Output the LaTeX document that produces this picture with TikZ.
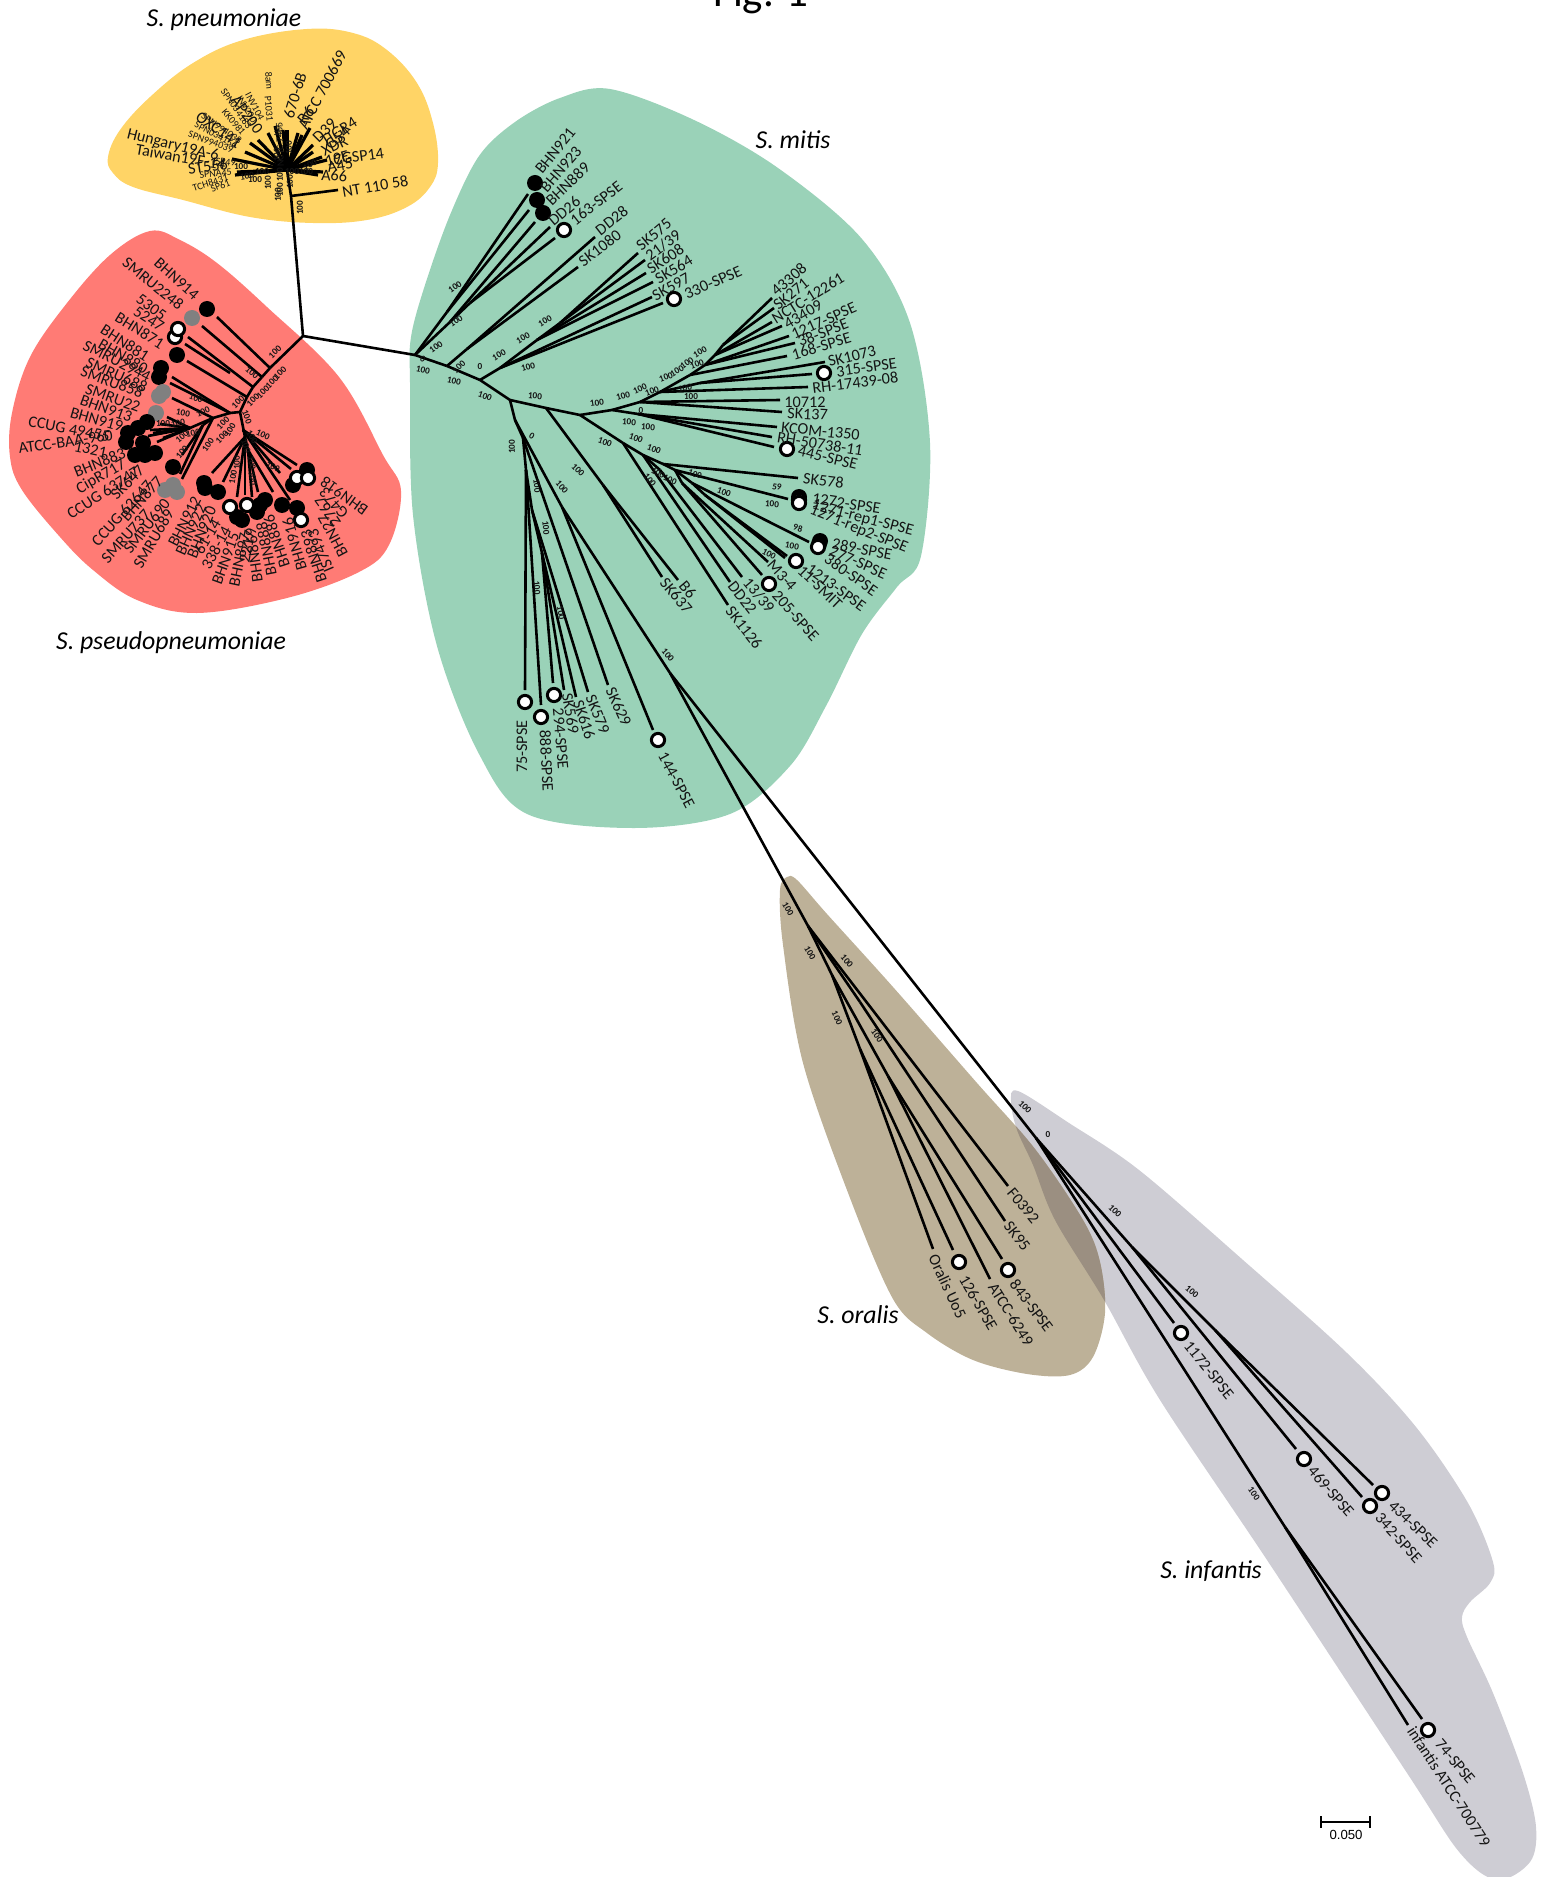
\documentclass[tikz,border=0pt]{standalone}
\usepackage{fontspec}
\setmainfont{Carlito}
\newcounter{nn}
\definecolor{cyel}{HTML}{FFD466}
\definecolor{cpnk}{HTML}{FF7B75}
\definecolor{cgrn}{HTML}{9AD2B8}
\definecolor{cbrn}{HTML}{BDB198}
\definecolor{cgry}{HTML}{CECDD4}
\definecolor{covl}{HTML}{9B8F81}
\definecolor{ctxt}{HTML}{141414}
\tikzset{
 branch/.style={line width=1.3pt,line cap=butt},
 lab/.style={inner sep=0pt,text=ctxt,font=\fontsize{8.1}{9}\selectfont},
 slab/.style={inner sep=0pt,text=ctxt,font=\fontsize{5}{6}\selectfont},
 bs/.style={inner sep=0pt,text=ctxt,font=\fontsize{4.6}{5}\selectfont\bfseries},
 sp/.style={inner sep=0pt,text=black,font=\fontsize{12.9}{14}\selectfont\itshape},
 wmark/.style={circle,inner sep=0pt,minimum size=6.6pt,draw=black,line width=1.5pt,fill=white},
 bmark/.style={circle,inner sep=0pt,minimum size=8pt,fill=black},
 gmark/.style={circle,inner sep=0pt,minimum size=8pt,fill=gray},
}
\newcommand\nd[3]{\coordinate (#1) at (#3); \draw[branch] (#2) -- (#1);}
\newcommand\Lw[4]{\stepcounter{nn}\node[lab,anchor=west,rotate=#3] (t\thenn) at (#1,#2) {#4};}
\newcommand\Le[4]{\stepcounter{nn}\node[lab,anchor=east,rotate=#3] (t\thenn) at (#1,#2) {#4};}
\newcommand\Se[4]{\stepcounter{nn}\node[slab,anchor=east,rotate=#3] (t\thenn) at (#1,#2) {#4};}
\newcommand\Mk[3]{\stepcounter{nn}\node[#1] (m\thenn) at (#2,#3) {};}
\newcommand\gryblob{plot[smooth cycle,tension=0.55] coordinates {(1018,1091)(1011,1102)(1017,1130)(1033,1165)(1055,1220)(1104,1300)(1160,1400)(1267,1560)(1407,1773)(1460,1853)(1497,1880)(1530,1862)(1536,1827)(1523,1773)(1493,1693)(1467,1637)(1462,1617)(1470,1602)(1490,1583)(1493,1562)(1468,1503)(1416,1427)(1347,1353)(1243,1260)(1139,1170)(1069,1123)}}
\newcommand\brnblob{plot[smooth cycle,tension=0.55] coordinates {(787,877)(780,890)(783,945)(803,1063)(850,1198)(893,1299)(927,1333)(973,1360)(1027,1374)(1070,1375)(1093,1357)(1105,1313)(1100,1262)(1083,1220)(1035,1149)(977,1083)(893,987)(827,914)(797,880)}}
\begin{document}
\begin{tikzpicture}[x=0.5pt,y=-0.5pt]
\clip (0,0) rectangle (1545,1877);
\useasboundingbox (0,0) rectangle (1545,1877);
% clouds
\fill[cyel] plot[smooth cycle,tension=0.65] coordinates {(307,29)(353,33)(387,50)(417,83)(433,123)(438,163)(430,187)(407,207)(367,220)(313,223)(250,217)(183,200)(133,187)(113,173)(108,157)(120,130)(150,97)(193,63)(243,40)};
\fill[cpnk] plot[smooth cycle,tension=0.6] coordinates {(150,231)(180,240)(217,263)(267,307)(339,377)(383,455)(401,491)(389,545)(359,572)(287,598)(197,613)(137,600)(93,570)(60,537)(22,490)(10,457)(12,413)(30,357)(67,303)(110,255)};
\fill[cgrn] plot[smooth cycle,tension=0.55] coordinates {(610,89)(560,98)(515,122)(479,156)(450,215)(425,285)(411,337)(410,383)(413,515)(437,646)(479,754)(527,814)(634,828)(730,814)(790,766)(826,706)(862,634)(897,587)(921,556)(930,443)(910,323)(862,239)(778,168)(694,120)};
\fill[cgry] \gryblob;
\fill[cbrn] \brnblob;
\begin{scope}\clip \gryblob; \fill[covl] \brnblob; \end{scope}
% ---- title & species
\node[inner sep=0pt,anchor=base,font=\fontsize{21.5}{24}\selectfont] (title) at (761,7) {Fig. 1};
\node[sp] (s1) at (224,20) {S. pneumoniae};
\node[sp] (s2) at (171,643) {S. pseudopneumoniae};
\node[sp] (s3) at (793,140) {S. mitis};
\node[sp] (s4) at (858,1315) {S. oralis};
\node[sp] (s5) at (1211,1571) {S. infantis};
% ---- tree backbone
\coordinate (R) at (303,336);
\nd{T}{R}{291,196} \nd{pc}{T}{287,170}
\nd{NT}{T}{338,190}
% pneumoniae spokes
\foreach \n/\x/\y in {1/235/175,2/237/172,3/232/159,4/245/152,5/250/143,6/258/140,7/268/133,8/275/126,9/283/130,10/287/130,11/298/133,12/302/135,13/310/128,14/313/145,15/313/152,16/322/157,17/327/160,18/323/172,19/318/175}
 {\coordinate (ps\n) at (\x,\y); \draw[branch,line width=1.6pt] (pc) -- (ps\n);}
% pseudopneumoniae tree
\nd{a1}{R}{270,368} \nd{a2}{a1}{262,377} \nd{a3}{a2}{253,387} \nd{a4}{a3}{247,397} \nd{a0}{a4}{240,412}
\coordinate (e1) at (217,317); \draw[branch] (a1)--(e1);
\coordinate (e2) at (202,326); \draw[branch] (a2)--(e2);
\coordinate (e3) at (188,337); \draw[branch] (a3)--(e3);
\coordinate (a5) at (230,373); \coordinate (e4) at (185,344); \draw[branch] (a5)--(e4);
\coordinate (e5) at (187,361); \draw[branch] (a4)--(e5);
\nd{b1}{a0}{230,413}
\coordinate (e6) at (172,377); \draw[branch] (b1)--(e6);
\coordinate (e7) at (170,383); \draw[branch] (b1)--(e7);
\nd{b2}{b1}{213,418}
\coordinate (e8) at (172,398); \draw[branch] (b2)--(e8);
\nd{b3}{b2}{190,428}
\foreach \n/\x/\y in {1/167/417,2/150/430,3/153/433,4/163/438,5/157/442,6/160/424,7/148/436}
 {\coordinate (c\n) at (\x,\y); \draw[branch] (b3) -- (c\n);}
\nd{b4}{b2}{203,425}
\coordinate (e9) at (182,455); \draw[branch] (b4)--(e9);
\coordinate (e10) at (182,479); \draw[branch] (b2)--(e10);
\coordinate (e11) at (180,474); \draw[branch] (b4)--(e11);
\nd{c0}{a0}{245,437} \nd{c00}{c0}{248,450}
\foreach \n/\x/\y in {1/212/473,2/223/482,3/237/497,4/245/495}
 {\coordinate (d\n) at (\x,\y); \draw[branch] (c0) -- (d\n);}
\foreach \n/\x/\y in {5/252/497,6/258/492,7/273/492}
 {\coordinate (d\n) at (\x,\y); \draw[branch] (c00) -- (d\n);}
\coordinate (cr) at (243,430);
\foreach \n/\x/\y in {8/290/500,9/280/473,10/297/465,11/291/469}
 {\coordinate (d\n) at (\x,\y); \draw[branch] (cr) -- (d\n);}
% mitis backbone
\nd{m0}{R}{415,355} \nd{m1}{m0}{447,366} \nd{m2}{m1}{480,380} \nd{m3}{m2}{510,400}
\nd{Y}{m3}{546,408} \nd{j1}{Y}{580,415} \nd{j2}{j1}{612,410} \nd{j4}{j2}{640,402} \nd{j5}{j4}{660,392} \nd{j6}{j5}{690,375}
% group A
\nd{A1}{m0}{447,312} \nd{A2}{m0}{450,322} \nd{A3}{A2}{470,303}
\coordinate (f1) at (528,194); \draw[branch] (A1)--(f1);
\coordinate (f2) at (529,210); \draw[branch] (A1)--(f2);
\coordinate (f3) at (535,222); \draw[branch] (A2)--(f3);
\coordinate (f4) at (550,227); \draw[branch] (A3)--(f4);
\coordinate (f5) at (555,238); \draw[branch] (A3)--(f5);
% group B
\nd{B1}{m1}{467,349}
\coordinate (f6) at (595,237); \draw[branch] (B1)--(f6);
\coordinate (f7) at (578,267); \draw[branch] (B1)--(f7);
% group C
\nd{c1}{m2}{500,368} \nd{c2}{c1}{537,340} \nd{c3}{c2}{560,323}
\coordinate (f8) at (638,253); \draw[branch] (c3)--(f8);
\coordinate (f9) at (645,260); \draw[branch] (c3)--(f9);
\coordinate (f10) at (646,273); \draw[branch] (c2)--(f10);
\coordinate (f11) at (653,282); \draw[branch] (c2)--(f11);
\coordinate (f12) at (652,297); \draw[branch] (c1)--(f12);
\coordinate (f13) at (663,303); \draw[branch] (c1)--(f13);
% right fan
\nd{j7}{j6}{705,365} \nd{j8}{j7}{715,355} \nd{j9}{j8}{723,345}
\coordinate (g1) at (772,298); \draw[branch] (j9)--(g1);
\coordinate (g2) at (774,308); \draw[branch] (j9)--(g2);
\coordinate (g3) at (772,322); \draw[branch] (j8)--(g3);
\coordinate (g4) at (782,326); \draw[branch] (j8)--(g4);
\coordinate (g5) at (789,336); \draw[branch] (j7)--(g5);
\coordinate (g6) at (795,343); \draw[branch] (j7)--(g6);
\coordinate (g7) at (787,356); \draw[branch] (j6)--(g7);
\nd{j10}{j5}{700,383}
\coordinate (g8) at (825,362); \draw[branch] (j10)--(g8);
\coordinate (g9) at (812,374); \draw[branch] (j10)--(g9);
\coordinate (g10) at (808,387); \draw[branch] (j5)--(g10);
\coordinate (g11) at (780,400); \draw[branch] (j4)--(g11);
\coordinate (g12) at (782,412); \draw[branch] (j4)--(g12);
\nd{j3}{j2}{638,414}
\coordinate (g13) at (777,427); \draw[branch] (j3)--(g13);
\coordinate (g14) at (772,437); \draw[branch] (j3)--(g14);
\coordinate (g15) at (774,447); \draw[branch] (j3)--(g15);
% lower arm
\nd{k1}{j1}{623,443} \nd{k2}{k1}{643,455} \nd{k3}{k2}{663,464} \nd{k4}{k3}{675,470} \nd{k5}{k4}{692,483} \nd{k6}{k5}{705,495}
\coordinate (h1) at (798,478); \draw[branch] (k3)--(h1);
\coordinate (h2) at (788,499); \draw[branch] (k4)--(h2);
\coordinate (h3) at (809,542); \draw[branch] (k5)--(h3);
\coordinate (h4) at (787,556); \draw[branch] (k6)--(h4);
\coordinate (h5) at (785,558); \draw[branch] (k6)--(h5);
\nd{k7}{k4}{682,483}
\coordinate (h6) at (768,562); \draw[branch] (k7)--(h6);
\coordinate (h7) at (762,575); \draw[branch] (k7)--(h7);
\nd{k8}{k2}{660,470}
\coordinate (h8) at (742,577); \draw[branch] (k8)--(h8);
\coordinate (h9) at (730,582); \draw[branch] (k2)--(h9);
\coordinate (h10) at (728,605); \draw[branch] (k1)--(h10);
\nd{s1}{Y}{603,485}
\coordinate (h11) at (678,580); \draw[branch] (s1)--(h11);
\coordinate (h12) at (662,577); \draw[branch] (s1)--(h12);
% lower-left fan
\nd{d0}{m3}{515,420} \nd{dd1}{d0}{523,438} \nd{dd2}{dd1}{526,470} \nd{dd3}{dd2}{532,510} \nd{dd4}{dd3}{542,553} \nd{dd5}{d0}{562,507}
\coordinate (i1) at (525,690); \draw[branch] (dd2)--(i1);
\coordinate (i2) at (541,705); \draw[branch] (dd2)--(i2);
\coordinate (i3) at (553,683); \draw[branch] (dd4)--(i3);
\coordinate (i4) at (564,690); \draw[branch] (dd4)--(i4);
\coordinate (i5) at (576,697); \draw[branch] (dd4)--(i5);
\coordinate (i6) at (588,692); \draw[branch] (dd3)--(i6);
\coordinate (i7) at (608,685); \draw[branch] (dd1)--(i7);
\coordinate (i8) at (653,730); \draw[branch] (dd5)--(i8);
\nd{ob}{dd5}{670,673}
% oralis
\nd{O1}{ob}{808,926} \nd{O4}{O1}{860,1002} \nd{O2}{O1}{832,975} \nd{O3}{O2}{888,1076} \nd{O5}{O2}{860,1049}
\coordinate (o1) at (1008,1186); \draw[branch] (O1)--(o1);
\coordinate (o2) at (1005,1221); \draw[branch] (O4)--(o2);
\coordinate (o3) at (1002,1259); \draw[branch] (O3)--(o3);
\coordinate (o4) at (990,1279); \draw[branch] (O3)--(o4);
\coordinate (o5) at (953,1250); \draw[branch] (O5)--(o5);
\coordinate (o6) at (933,1249); \draw[branch] (O5)--(o6);
% infantis
\nd{I}{ob}{1036,1138} \nd{I2}{I}{1132,1247} \nd{I3}{I2}{1215,1330} \nd{I4}{I}{1285,1527}
\coordinate (n1) at (1174,1323); \draw[branch] (I)--(n1);
\coordinate (n2) at (1296,1449); \draw[branch] (I2)--(n2);
\coordinate (n3) at (1362,1497); \draw[branch] (I3)--(n3);
\coordinate (n4) at (1373,1485); \draw[branch] (I3)--(n4);
\coordinate (n5) at (1422,1719); \draw[branch] (I4)--(n5);
\coordinate (n6) at (1408,1725); \draw[branch] (I4)--(n6);
% scale bar
\coordinate (sb1) at (1321,1822); \coordinate (sb2) at (1370,1822);
\draw[line width=1.2pt] (sb1) -- (sb2);
\draw[line width=1.2pt] ([yshift=3pt]sb1) -- ([yshift=-3pt]sb1);
\draw[line width=1.2pt] ([yshift=3pt]sb2) -- ([yshift=-3pt]sb2);
\node[inner sep=0pt,font=\fontsize{6.6}{8}\fontspec{Liberation Sans}\selectfont] (sbl) at (1346,1835) {0.050};
% ---- markers
% pseudopneumoniae
\Mk{bmark}{207}{309} \Mk{gmark}{192}{318} \Mk{wmark}{175}{337} \Mk{wmark}{178}{329} \Mk{bmark}{177}{355}
\Mk{bmark}{161}{368} \Mk{bmark}{159}{377} \Mk{gmark}{163}{392} \Mk{gmark}{159}{396} \Mk{gmark}{156}{413}
\Mk{bmark}{147}{422} \Mk{bmark}{138}{428} \Mk{bmark}{128}{433} \Mk{bmark}{126}{442} \Mk{bmark}{143}{443} \Mk{bmark}{135}{455} \Mk{bmark}{145}{455} \Mk{bmark}{155}{453}
\Mk{bmark}{173}{467} \Mk{gmark}{173}{485} \Mk{gmark}{165}{490} \Mk{gmark}{177}{492}
\Mk{bmark}{204}{483} \Mk{bmark}{205}{488} \Mk{bmark}{218}{492}
\Mk{bmark}{237}{517} \Mk{bmark}{242}{520} \Mk{wmark}{230}{507} \Mk{bmark}{257}{512} \Mk{bmark}{265}{500} \Mk{bmark}{260}{505} \Mk{wmark}{247}{505}
\Mk{bmark}{282}{505} \Mk{bmark}{297}{508} \Mk{wmark}{301}{520} \Mk{bmark}{293}{485} \Mk{bmark}{307}{470} \Mk{wmark}{297}{478} \Mk{wmark}{308}{478}
% mitis
\Mk{bmark}{535}{183} \Mk{bmark}{537}{200} \Mk{bmark}{543}{213} \Mk{wmark}{564}{230} \Mk{wmark}{674}{299}
\Mk{wmark}{824}{373} \Mk{wmark}{787}{449}
\Mk{bmark}{799}{497} \Mk{wmark}{799}{500} \Mk{wmark}{799}{503}
\Mk{bmark}{820}{541} \Mk{bmark}{819}{544} \Mk{wmark}{818}{547}
\Mk{wmark}{796}{561} \Mk{wmark}{769}{584}
\Mk{wmark}{525}{702} \Mk{wmark}{541}{717} \Mk{wmark}{554}{695} \Mk{wmark}{658}{740}
% oralis, infantis
\Mk{wmark}{1008}{1270} \Mk{wmark}{959}{1262}
\Mk{wmark}{1181}{1333} \Mk{wmark}{1304}{1459} \Mk{wmark}{1370}{1506} \Mk{wmark}{1382}{1493} \Mk{wmark}{1428}{1730}
% ---- labels: pneumoniae
\Lw{342}{192}{10}{NT 110 58}
\Lw{302}{128}{62}{ATCC 700669}
\Lw{288}{118}{73}{670-6B}
\Lw{322}{142}{32}{TIGR4}
\Lw{333}{160}{8}{CGSP14}
\Le{219}{157}{-14}{Hungary19A-6}
\Le{226}{165}{-10}{Taiwan19F-14}
\Le{228}{164}{8}{ST556}
\Le{240}{145}{-35}{OXC141}
\Le{260}{132}{-53}{AP200}
\Lw{300}{122}{50}{R6}
\Lw{315}{140}{45}{D39}
\Se{262}{120}{-62}{INV104}
\Se{255}{122}{-58}{INV200}
\Se{250}{128}{-55}{SPN034183}
\Se{244}{134}{-50}{KK0981}
\Se{241}{142}{-35}{SPN994038}
\Se{237}{146}{-28}{SPN034156}
\Se{233}{150}{-20}{SPN994039}
\Se{236}{163}{-5}{SP49}
\Se{232}{172}{5}{SPNA45}
\Se{228}{177}{18}{TCH8431}
\Se{230}{182}{22}{SP61}
\Se{270}{122}{-85}{P1031}
\Se{270}{90}{-85}{8am}
\Se{279}{122}{92}{NCTC 7465}
\Se{278}{125}{88}{JJA}
\Lw{327}{147}{40}{G54}
\Lw{322}{152}{25}{XDR}
\Lw{325}{162}{15}{19F}
\Lw{327}{168}{10}{A45}
\Lw{321}{175}{-3}{A66}
% ---- labels: pseudopneumoniae
\Le{197}{297}{-42}{BHN914} \Le{182}{307}{-39}{SMRU2248} \Le{165}{317}{-36}{5305} \Le{163}{328}{-33}{5247} \Le{163}{345}{-32}{BHN871}
\Le{148}{358}{-33}{BHN881} \Le{147}{370}{-30}{BHN880} \Le{150}{378}{-27}{SMRU2944} \Le{147}{388}{-24}{SMRU688} \Le{143}{393}{-20}{SMRU858} \Le{140}{408}{-20}{SMRU22}
\Le{132}{418}{-20}{BHN913} \Le{123}{427}{-16}{BHN919} \Le{110}{437}{-11}{CCUG 49455} \Le{113}{435}{8}{ATCC-BAA-960} \Le{107}{453}{-12}{1321} \Le{125}{452}{22}{BHN883}
\Le{125}{463}{30}{CipR717} \Le{138}{470}{33}{CCUG 63747} \Le{142}{468}{45}{SK647} \Le{150}{482}{48}{CCUG 62647} \Le{160}{478}{48}{BHN877}
\Le{148}{512}{48}{SMRU737} \Le{167}{500}{52}{SMRU690} \Le{170}{510}{60}{SMRU689}
\Le{197}{497}{63}{BHN912} \Le{202}{505}{66}{BHN922} \Le{212}{507}{68}{BHN920} \Le{217}{520}{60}{61-14} \Le{227}{527}{62}{338-14}
\Le{235}{533}{70}{BHN915} \Le{245}{533}{78}{BHN897} \Le{250}{530}{80}{2217}
\Le{250}{528}{98}{BHN869} \Le{261}{522}{101}{BHN888} \Le{268}{515}{108}{BHN886} \Le{287}{518}{106}{BHN916} \Le{305}{530}{108}{BHN893} \Le{312}{530}{113}{IS7493}
\Le{322}{515}{118}{BHN27} \Le{318}{498}{125}{2767} \Le{322}{490}{132}{G473} \Le{322}{480}{144}{BHN918}
% ---- labels: mitis
\Lw{538}{172}{51}{BHN921} \Lw{543}{190}{49}{BHN923} \Lw{548}{203}{44}{BHN889} \Lw{550}{223}{40}{DD26} \Lw{572}{222}{38}{163-SPSE}
\Lw{597}{232}{38}{DD28} \Lw{580}{263}{37}{SK1080}
\Lw{638}{248}{40}{SK575} \Lw{647}{257}{36}{21/39} \Lw{648}{270}{33}{SK608} \Lw{656}{280}{31}{SK564} \Lw{653}{297}{29}{SK597} \Lw{685}{295}{24}{330-SPSE}
\Lw{773}{293}{41}{43308} \Lw{775}{307}{39}{SK271} \Lw{773}{320}{32}{NCTC-12261} \Lw{785}{325}{30}{43409} \Lw{792}{335}{24}{1217-SPSE} \Lw{798}{342}{21}{38-SPSE} \Lw{792}{355}{17}{168-SPSE}
\Lw{828}{362}{14}{SK1073} \Lw{836}{372}{8}{315-SPSE} \Lw{812}{388}{7}{RH-17439-08} \Lw{784}{402}{0}{10712} \Lw{787}{413}{-3}{SK137}
\Lw{781}{427}{-6}{KCOM-1350} \Lw{777}{437}{-9}{RH-50738-11} \Lw{798}{450}{-14}{445-SPSE}
\Lw{803}{478}{-7}{SK578} \Lw{812}{498}{-9}{1272-SPSE} \Lw{812}{505}{-15}{1271-rep1-SPSE} \Lw{810}{510}{-22}{1271-rep2-SPSE}
\Lw{832}{543}{-11}{289-SPSE} \Lw{830}{550}{-24}{277-SPSE} \Lw{826}{557}{-35}{380-SPSE} \Lw{808}{567}{-36}{1213-SPSE} \Lw{800}{568}{-44}{11-SMIT}
\Lw{770}{562}{-48}{M3-4} \Lw{775}{593}{-48}{205-SPSE} \Lw{746}{580}{-50}{13/39} \Lw{731}{583}{-52}{DD22} \Lw{729}{608}{-52}{SK1126}
\Lw{682}{583}{-50}{B6} \Lw{663}{580}{-50}{SK637}
\Le{522}{720}{90}{75-SPSE} \Lw{545}{730}{-87}{888-SPSE} \Lw{558}{708}{-85}{294-SPSE} \Lw{567}{693}{-80}{SK569} \Lw{578}{700}{-72}{SK616} \Lw{590}{695}{-68}{SK579} \Lw{610}{688}{-65}{SK629} \Lw{662}{753}{-62}{144-SPSE}
% oralis
\Lw{1010}{1190}{-50}{F0392} \Lw{1007}{1223}{-52}{SK95} \Lw{1013}{1281}{-53}{843-SPSE} \Lw{992}{1284}{-58}{ATCC-6249} \Lw{963}{1276}{-60}{126-SPSE} \Lw{933}{1255}{-65}{Oralis Uo5}
% infantis
\Lw{1187}{1343}{-51}{1172-SPSE} \Lw{1311}{1468}{-49}{469-SPSE} \Lw{1378}{1515}{-48}{342-SPSE} \Lw{1391}{1503}{-44}{434-SPSE} \Lw{1438}{1741}{-50}{74-SPSE} \Lw{1411}{1728}{-57}{infantis ATCC-700779}
% ---- bootstrap values
\foreach \x/\y/\r/\t in {300/208/90/100,
455/287/35/100,456/321/35/100,436/347/35/100,423/359/-30/0,423/370/-12/100,454/381/-12/100,485/396/-20/100,459/367/45/100,480/367/0/0,499/355/30/100,523/338/30/100,545/321/30/100,528/367/15/100,535/396/-5/100,597/403/8/100,
623/396/15/100,640/389/25/100,652/391/20/100,666/377/20/100,677/371/30/100,687/363/35/100,697/364/20/100,700/352/30/100,685/388/10/100,691/397/0/100,641/411/0/0,629/422/-5/100,648/427/-5/100,605/442/-20/100,636/438/-20/100,654/449/-20/100,695/474/-20/100,658/473/-30/100,670/480/-25/100,650/480/-50/100,
724/492/-20/100,777/487/-10/59,772/504/-5/100,798/528/-15/98,792/546/-10/100,769/554/-30/100,
668/655/-50/100,512/447/90/100,532/436/-30/0,537/486/-85/100,562/487/-50/100,578/470/-45/100,546/528/-85/100,537/588/-85/100,561/613/-80/100,
788/909/-60/100,810/953/-60/100,847/961/-50/100,837/1018/-65/100,877/1036/-55/100,
1025/1107/-45/100,1048/1135/0/0,1115/1211/-45/100,1192/1292/-40/100,1254/1494/-55/100,
275/352/45/100,252/373/-40/100,280/373/45/100,272/382/45/100,263/392/45/100,253/400/45/100,238/402/45/100,196/398/-20/100,203/412/25/100,183/413/-10/100,163/424/0/100,178/423/10/100,193/433/10/100,182/437/40/100,182/452/50/100,208/445/55/100,222/437/45/100,223/423/45/100,263/435/-25/100,252/437/-60/100,247/417/-70/100,273/467/-25/100,237/463/90/100,252/463/-80/100,233/477/80/100,253/478/-75/100,246/446/-70/100,230/430/60/100,
241/167/0/100,247/176/10/100,262/172/0/100,255/180/0/100,268/183/90/100,277/155/90/100,289/148/90/100,306/172/0/100,310/165/30/100,280/190/90/100,290/182/90/100,292/172/0/100,280/175/90/100,278/195/90/100}
{\stepcounter{nn}\node[bs,rotate=\r] (v\thenn) at (\x,\y) {\t};}
\end{tikzpicture}
\end{document}
